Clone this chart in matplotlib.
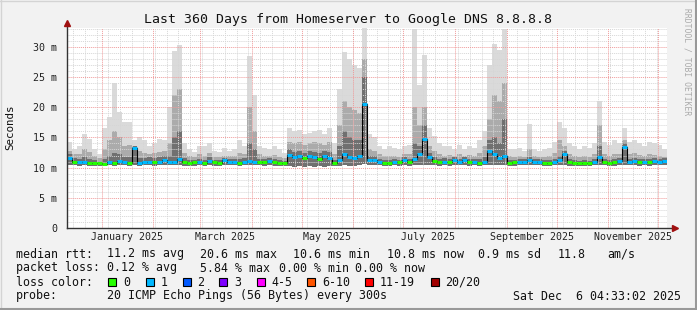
import datetime as dt
import numpy as np
import matplotlib
matplotlib.use('Agg')
import matplotlib.pyplot as plt
import matplotlib.dates as mdates
from matplotlib.patches import Rectangle
from matplotlib.lines import Line2D

# time range: 360 days, 3-day bins
start = dt.datetime(2024, 12, 11, 4, 33, 2)
bin_days = 3

# smoke: top of light / medium / dark bands and bottom (ms)
smoke_max = [
    14.3, 13.0, 13.5, 15.6, 14.8, 13.0, 12.3, 16.5, 18.4, 24.0,
    19.2, 17.5, 17.6, 14.5, 15.0, 14.5, 13.5, 14.0, 14.8, 14.5,
    20.0, 29.3, 30.3, 14.0, 13.0, 12.6, 13.5, 13.5, 14.0, 12.8,
    12.6, 13.2, 12.8, 13.0, 14.5, 13.5, 28.5, 22.0, 13.5, 13.2,
    13.0, 13.5, 13.0, 12.5, 16.5, 16.0, 16.3, 15.5, 15.8, 16.0,
    16.2, 15.5, 16.5, 14.0, 23.0, 29.2, 28.0, 27.0, 26.5, 33.5,
    15.5, 15.0, 13.5, 13.0, 13.5, 13.2, 13.0, 13.5, 13.8, 33.0,
    23.6, 28.7, 16.5, 15.2, 14.0, 13.5, 13.5, 13.0, 13.8, 13.0,
    13.5, 13.2, 14.5, 16.0, 27.0, 30.5, 29.5, 33.0, 13.0, 13.0,
    13.2, 12.8, 17.3, 13.0, 12.8, 13.0, 13.2, 14.3, 17.5, 16.5,
    14.0, 13.5, 13.0, 13.5, 13.2, 14.0, 21.0, 14.3, 13.8, 14.5,
    14.0, 16.5, 14.3, 14.5, 14.0, 13.5, 14.3, 14.0, 13.8, 13.0]
smoke_mid = [
    12.8, 12.2, 12.3, 13.0, 12.6, 12.0, 11.6, 13.0, 14.5, 16.0,
    15.0, 13.5, 13.8, 13.0, 12.8, 12.5, 12.2, 12.4, 12.6, 12.8,
    14.0, 22.0, 23.0, 12.5, 12.0, 11.8, 12.2, 12.0, 12.5, 11.8,
    11.8, 12.0, 11.9, 12.0, 12.5, 12.3, 20.0, 16.0, 12.2, 12.0,
    11.9, 12.1, 11.8, 11.6, 14.3, 14.0, 14.2, 13.8, 14.0, 14.2,
    14.0, 13.8, 14.3, 12.2, 17.0, 21.0, 20.0, 19.5, 19.0, 28.0,
    13.0, 12.8, 12.2, 11.9, 12.0, 12.0, 11.8, 12.2, 12.3, 20.0,
    17.0, 20.0, 13.5, 12.8, 12.3, 12.0, 12.1, 11.9, 12.2, 12.0,
    12.1, 12.0, 12.5, 13.5, 18.0, 22.0, 21.0, 24.0, 11.9, 11.8,
    11.9, 11.8, 13.0, 11.9, 11.8, 11.8, 11.9, 12.4, 14.5, 13.5,
    12.2, 11.9, 11.8, 11.9, 11.8, 12.3, 17.0, 12.3, 12.0, 12.3,
    12.2, 14.5, 12.3, 12.4, 12.1, 11.9, 12.2, 12.1, 12.0, 11.8]
smoke_dark = [
    12.2, 11.6, 11.5, 11.8, 11.4, 11.2, 11.0, 11.5, 12.0, 12.5,
    12.2, 11.8, 11.8, 13.5, 11.6, 11.6, 11.7, 11.6, 11.8, 12.0,
    12.0, 15.0, 16.0, 11.6, 11.3, 11.2, 11.5, 11.3, 11.7, 11.3,
    11.2, 11.6, 11.4, 11.5, 11.5, 11.6, 14.0, 13.0, 11.5, 11.4,
    11.6, 11.4, 11.2, 11.1, 13.0, 12.6, 12.8, 12.4, 12.8, 12.6,
    12.4, 12.7, 12.6, 11.3, 13.5, 16.0, 15.0, 14.5, 14.5, 25.0,
    12.0, 12.0, 11.5, 11.3, 11.3, 11.5, 11.3, 11.7, 11.4, 14.0,
    13.5, 17.0, 12.5, 11.7, 11.5, 11.6, 11.4, 11.8, 11.5, 11.7,
    11.4, 11.5, 11.4, 11.8, 14.5, 15.0, 14.0, 18.0, 11.2, 11.3,
    11.5, 11.5, 11.8, 11.5, 11.4, 11.2, 11.2, 11.5, 12.0, 12.8,
    11.4, 11.2, 11.1, 11.2, 11.1, 11.5, 13.5, 11.5, 11.2, 11.4,
    11.6, 14.0, 11.5, 11.6, 11.4, 11.5, 11.4, 11.6, 11.5, 11.6]
smoke_min = [
    10.5, 10.4, 10.3, 10.4, 10.3, 10.2, 10.2, 10.3, 10.4, 10.3,
    10.4, 10.4, 10.3, 10.4, 10.3, 10.4, 10.4, 10.3, 10.4, 10.5,
    10.4, 10.4, 10.5, 10.3, 10.3, 10.3, 10.4, 10.3, 10.4, 10.3,
    10.3, 10.4, 10.4, 10.4, 10.3, 10.4, 10.4, 10.4, 10.4, 10.3,
    10.4, 10.3, 10.3, 10.2, 10.2, 10.1, 10.2, 10.1, 10.2, 10.1,
    10.2, 10.1, 10.2, 10.2, 10.3, 10.4, 10.3, 10.3, 10.4, 10.6,
    10.4, 10.4, 10.4, 10.3, 10.3, 10.4, 10.3, 10.4, 10.3, 10.4,
    10.5, 10.5, 10.4, 10.4, 10.3, 10.4, 10.3, 10.4, 10.4, 10.4,
    10.3, 10.4, 10.3, 10.4, 10.5, 10.5, 10.4, 10.5, 10.3, 10.3,
    10.4, 10.4, 10.4, 10.4, 10.4, 10.3, 10.3, 10.4, 10.4, 10.5,
    10.3, 10.3, 10.2, 10.3, 10.2, 10.4, 10.4, 10.4, 10.3, 10.3,
    10.4, 10.5, 10.4, 10.4, 10.3, 10.4, 10.3, 10.4, 10.4, 10.4]

# median rtt (ms) and loss class per bin (0 = no loss, 1 = 1/20)
median = [
    11.6, 11.0, 10.9, 11.0, 10.8, 10.7, 10.7, 10.6, 10.9, 10.8,
    11.1, 10.9, 10.8, 13.2, 10.8, 10.9, 11.0, 10.9, 11.0, 11.2,
    10.9, 11.0, 11.5, 11.0, 10.8, 10.9, 11.0, 10.8, 11.1, 10.9,
    10.8, 11.2, 10.9, 11.0, 10.8, 11.0, 11.1, 11.0, 11.0, 10.9,
    11.1, 10.9, 10.8, 10.7, 12.1, 11.7, 11.9, 11.6, 12.0, 11.8,
    11.5, 11.9, 11.6, 10.7, 11.3, 12.2, 11.7, 11.6, 12.0, 20.6,
    11.2, 11.3, 10.9, 10.8, 10.8, 11.0, 10.9, 11.2, 10.9, 11.4,
    12.2, 14.8, 11.8, 11.1, 11.0, 11.0, 10.9, 11.3, 11.0, 11.2,
    10.9, 11.0, 10.8, 11.0, 12.8, 12.2, 11.6, 12.0, 10.8, 10.9,
    11.0, 11.0, 11.2, 11.0, 10.9, 10.8, 10.8, 11.0, 11.3, 12.3,
    10.9, 10.8, 10.7, 10.8, 10.7, 11.0, 11.8, 11.0, 10.8, 10.9,
    11.1, 13.4, 11.0, 11.1, 10.9, 11.0, 10.9, 11.1, 11.0, 11.1]
loss = [
    1, 0, 1, 1, 0, 0, 0, 0, 1, 0,
    1, 1, 0, 1, 1, 1, 1, 0, 1, 1,
    1, 1, 1, 0, 0, 0, 1, 0, 1, 0,
    0, 1, 1, 1, 0, 1, 1, 1, 0, 0,
    1, 0, 0, 0, 1, 1, 1, 0, 1, 1,
    0, 1, 1, 0, 1, 1, 1, 1, 1, 1,
    1, 1, 1, 0, 0, 1, 0, 1, 0, 1,
    1, 1, 1, 0, 0, 1, 0, 1, 1, 1,
    0, 1, 0, 1, 1, 1, 1, 1, 0, 0,
    1, 1, 1, 1, 1, 0, 0, 1, 1, 1,
    0, 0, 0, 0, 0, 1, 1, 0, 0, 0,
    1, 1, 1, 1, 0, 1, 0, 1, 1, 1]

loss_colors = ['#26ff00', '#00b8ff', '#0059ff', '#7e00ff',
               '#ff00ff', '#ff5500', '#ff0000', '#a10000']
loss_labels = ['0', '1', '2', '3', '4-5', '6-10', '11-19', '20/20']

W, H = 697, 310
MONO = 'DejaVu Sans Mono'


def px(x):
    return x / W


def py(y):
    return 1 - y / H


edges = [start + dt.timedelta(days=bin_days * i) for i in range(len(median) + 1)]
xe = mdates.date2num(edges)


def stepy(a):
    return np.append(a, a[-1])


fig = plt.figure(figsize=(W / 100, H / 100), dpi=100, facecolor='#f2f2f2')
ax = fig.add_axes([px(67), py(228), 600 / W, (228 - 27.5) / H])
ax.set_facecolor('white')
ax.set_xlim(xe[0], xe[-1])
ax.set_ylim(0, 33.2)

# smoke
ax.fill_between(xe, stepy(smoke_min), stepy(smoke_max), step='post',
                color='#dadada', lw=0, zorder=1)
ax.fill_between(xe, stepy(smoke_min), stepy(smoke_mid), step='post',
                color='#ababab', lw=0, zorder=1.1)
ax.fill_between(xe, stepy(smoke_min), stepy(smoke_dark), step='post',
                color='#707070', lw=0, zorder=1.2)

# grid
for yv in range(1, 34):
    if yv % 5:
        ax.axhline(yv, color='#d6d6d6', lw=0.7, ls=(0, (1, 1)), zorder=2)
for yv in range(5, 35, 5):
    ax.axhline(yv, color='#f09a9a', lw=0.7, ls=(0, (1, 1)), zorder=2.1)
d = dt.datetime(2024, 12, 15)
while d < edges[-1]:
    ax.axvline(mdates.date2num(d), color='#d6d6d6', lw=0.7, ls=(0, (1, 1)), zorder=2)
    d += dt.timedelta(days=7)
for m in range(1, 13):
    ax.axvline(mdates.date2num(dt.datetime(2025, m, 1)), color='#f09a9a',
               lw=0.7, ls=(0, (1, 1)), zorder=2.1)

# median line coloured by loss
ax.plot(xe, stepy(median), drawstyle='steps-post', color='black', lw=0.8, zorder=4)
ax.hlines(median, xe[:-1], xe[1:], colors=[loss_colors[l] for l in loss],
          lw=2.2, zorder=5)

# axes and ticks
for s in ax.spines.values():
    s.set_visible(False)
ax.set_yticks(range(0, 35, 5))
ax.set_yticklabels(['0'] + ['%d m' % v for v in range(5, 35, 5)])
lab_months = [1, 3, 5, 7, 9, 11]
ax.set_xticks([mdates.date2num(dt.datetime(2025, m, 16)) for m in lab_months])
ax.set_xticklabels([dt.datetime(2025, m, 1).strftime('%B 2025') for m in lab_months])
ax.tick_params(length=0, labelsize=7.2, colors='#222222')
ax.tick_params(axis='y', pad=7)
ax.tick_params(axis='x', pad=3)
for t in ax.get_xticklabels() + ax.get_yticklabels():
    t.set_family(MONO)

ax.plot([0, 1.012], [0, 0], transform=ax.transAxes, color='#333333', lw=1,
        clip_on=False, zorder=6)
ax.plot([0, 0], [0, 1.02], transform=ax.transAxes, color='#333333', lw=1,
        clip_on=False, zorder=6)
ax.plot([1.013], [0], marker='>', ms=4.5, color='#a01010', transform=ax.transAxes,
        clip_on=False, zorder=7)
ax.plot([0], [1.02], marker='^', ms=4.5, color='#a01010', transform=ax.transAxes,
        clip_on=False, zorder=7)

# titles
fig.text(0.5, py(19), 'Last 360 Days from Homeserver to Google DNS 8.8.8.8',
         ha='center', va='center', family=MONO, size=9.5, color='#111111')
fig.text(px(10), py(127), 'Seconds', rotation=90, ha='center', va='center',
         family=MONO, size=7.8, color='#111111')
fig.text(px(687), py(62), 'RRDTOOL / TOBI OETIKER', rotation=270, ha='center',
         va='center', family=MONO, size=5.8, color='#aaaaaa')

# legend block
fs = 8.4
rows = [
    (254, [(16, 'median rtt:'), (107, '11.2 ms avg'), (200, '20.6 ms max'),
           (293, '10.6 ms min'), (386.7, '10.8 ms now'), (478, '0.9 ms sd'),
           (558, '11.8'), (607, 'am/s')]),
    (268, [(16, 'packet loss:'), (107, '0.12 % avg'), (200, '5.84 % max'),
           (279, '0.00 % min'), (355, '0.00 % now')]),
    (282, [(16, 'loss color:')]),
    (296, [(16, 'probe:'), (107, '20 ICMP Echo Pings (56 Bytes) every 300s'),
           (513, 'Sat Dec  6 04:33:02 2025')]),
]
for yy, items in rows:
    for xx, s in items:
        fig.text(px(xx), py(yy), s, ha='left', va='center', family=MONO,
                 size=fs, color='#111111')

sq_x = [108.3, 145.7, 182.7, 219.3, 256.7, 307.3, 365.3, 430.7]
for xx, c, lab in zip(sq_x, loss_colors, loss_labels):
    fig.add_artist(Rectangle((px(xx), py(286)), 8 / W, 8 / H, facecolor=c,
                             edgecolor='black', lw=0.8, transform=fig.transFigure))
    fig.text(px(xx + 14.5), py(282), lab, ha='left', va='center', family=MONO,
             size=fs, color='#111111')

# 3d frame
fig.add_artist(Line2D([0, 1], [py(0.5)] * 2, color='#d4d4d4', lw=1, transform=fig.transFigure))
fig.add_artist(Line2D([px(0.5)] * 2, [0, 1], color='#d4d4d4', lw=1, transform=fig.transFigure))
fig.add_artist(Line2D([0, 1], [py(309)] * 2, color='#999999', lw=1.5, transform=fig.transFigure))
fig.add_artist(Line2D([px(696)] * 2, [0, 1], color='#999999', lw=1.5, transform=fig.transFigure))

fig.savefig('out.png', dpi=100, facecolor=fig.get_facecolor())
